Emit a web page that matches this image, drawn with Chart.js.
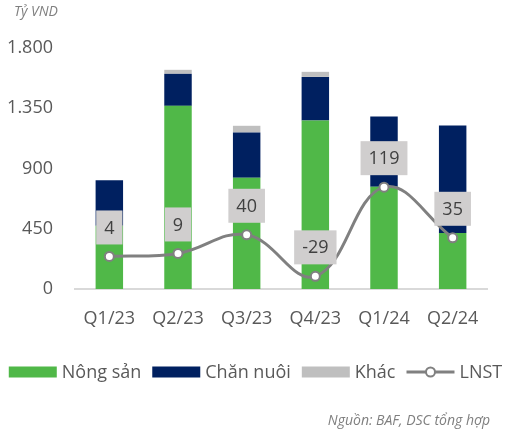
<!DOCTYPE html>
<html>
<head>
<meta charset="utf-8">
<script src="https://cdn.jsdelivr.net/npm/chart.js@4.4.0/dist/chart.umd.min.js"></script>
<style>
  html, body { margin: 0; padding: 0; background: #fff; }
  #grafico { display: block; }
</style>
</head>
<body>
<canvas id="grafico" width="507" height="434"></canvas>
<script>
const quarters = ['Q1/23', 'Q2/23', 'Q3/23', 'Q4/23', 'Q1/24', 'Q2/24'];
const nongSan = [472, 1368, 831, 1258, 763, 418];
const chanNuoi = [341, 239, 338, 326, 525, 803];
const khac = [0, 30, 50, 38, 0, 0];
const lnst = [4, 9, 40, -29, 119, 35];
const yTicks = [0, 450, 900, 1350, 1800];

const FONT = "'Open Sans', 'Noto Sans', sans-serif";
const textGray = '#595959';

function formatVN(v) {
  return String(v).replace(/\B(?=(\d{3})+(?!\d))/g, '.');
}

// nhan gia tri LNST trong hop xam
const lnstLabels = {
  id: 'lnstLabels',
  afterDatasetsDraw(chart) {
    const ctx = chart.ctx;
    const meta = chart.getDatasetMeta(3);
    ctx.save();
    ctx.font = '18px ' + FONT;
    ctx.textAlign = 'center';
    ctx.textBaseline = 'middle';
    meta.data.forEach((pt, i) => {
      const txt = String(lnst[i]);
      const w = ctx.measureText(txt).width + 16;
      const h = 34;
      const bottom = pt.y - 12;
      ctx.fillStyle = '#d0cece';
      ctx.fillRect(pt.x - w / 2, bottom - h, w, h);
      ctx.fillStyle = '#404040';
      ctx.fillText(txt, pt.x, bottom - h / 2 + 1);
    });
    ctx.restore();
  }
};

// tieu de, chu thich va nguon
const extras = {
  id: 'extras',
  afterDraw(chart) {
    const ctx = chart.ctx;
    ctx.save();
    ctx.fillStyle = '#7f7f7f';
    ctx.font = 'italic 14px ' + FONT;
    ctx.textBaseline = 'alphabetic';
    ctx.textAlign = 'left';
    ctx.fillText('Tỷ VND', 14, 16);
    ctx.textAlign = 'right';
    ctx.fillText('Nguồn: BAF, DSC tổng hợp', 490, 425);

    // legend
    const items = chart.data.datasets.map(ds => ({ text: ds.label, ds }));
    ctx.font = '18px ' + FONT;
    const boxW = 48, gapTxt = 5, gapItem = 11;
    let total = 0;
    items.forEach((it, i) => {
      it.w = ctx.measureText(it.text).width;
      total += boxW + gapTxt + it.w + (i < items.length - 1 ? gapItem : 0);
    });
    let x = 255.5 - total / 2;
    const cy = 372;
    ctx.textAlign = 'left';
    ctx.textBaseline = 'middle';
    items.forEach(it => {
      if (it.ds.type === 'line') {
        ctx.strokeStyle = it.ds.borderColor;
        ctx.lineWidth = 3;
        ctx.beginPath();
        ctx.moveTo(x, cy);
        ctx.lineTo(x + boxW, cy);
        ctx.stroke();
        ctx.beginPath();
        ctx.arc(x + boxW / 2, cy, 4.5, 0, Math.PI * 2);
        ctx.fillStyle = '#fff';
        ctx.fill();
        ctx.lineWidth = 2;
        ctx.stroke();
      } else {
        ctx.fillStyle = it.ds.backgroundColor;
        ctx.fillRect(x, cy - 5.5, boxW, 11);
      }
      x += boxW + gapTxt;
      ctx.fillStyle = textGray;
      ctx.fillText(it.text, x, cy + 1);
      x += it.w + gapItem;
    });
    ctx.restore();
  }
};

new Chart(document.getElementById('grafico'), {
  data: {
    labels: quarters,
    datasets: [
      { type: 'bar', label: 'Nông sản', data: nongSan, backgroundColor: '#50b848', order: 1, categoryPercentage: 0.8, barPercentage: 0.5 },
      { type: 'bar', label: 'Chăn nuôi', data: chanNuoi, backgroundColor: '#002060', order: 1, categoryPercentage: 0.8, barPercentage: 0.5 },
      { type: 'bar', label: 'Khác', data: khac, backgroundColor: '#bfbfbf', order: 1, categoryPercentage: 0.8, barPercentage: 0.5 },
      {
        type: 'line', label: 'LNST', data: lnst, yAxisID: 'y2', order: 0,
        borderColor: '#808080', borderWidth: 3, tension: 0.4,
        pointRadius: 4.5, pointBorderWidth: 2,
        pointBackgroundColor: '#ffffff', pointBorderColor: '#808080'
      }
    ]
  },
  options: {
    responsive: false,
    animation: false,
    layout: { padding: { top: 48, left: 0, right: 20, bottom: 105 } },
    plugins: {
      legend: { display: false },
      tooltip: { enabled: false }
    },
    scales: {
      x: {
        stacked: true,
        afterFit: axis => { axis.height = 40; },
        grid: { display: false, drawTicks: false },
        border: { display: true, color: '#d9d9d9', width: 2 },
        ticks: { color: textGray, font: { family: FONT, size: 18 }, padding: 19 }
      },
      y: {
        stacked: true,
        min: 0, max: 1800,
        afterBuildTicks: axis => { axis.ticks = yTicks.map(v => ({ value: v })); },
        afterFit: axis => { axis.width = 75; },
        grid: { display: false, drawTicks: false },
        border: { display: false },
        ticks: { color: textGray, font: { family: FONT, size: 18 }, padding: 22, callback: v => formatVN(v) }
      },
      y2: {
        display: false,
        min: -50, max: 350
      }
    }
  },
  plugins: [lnstLabels, extras]
});
</script>
</body>
</html>
